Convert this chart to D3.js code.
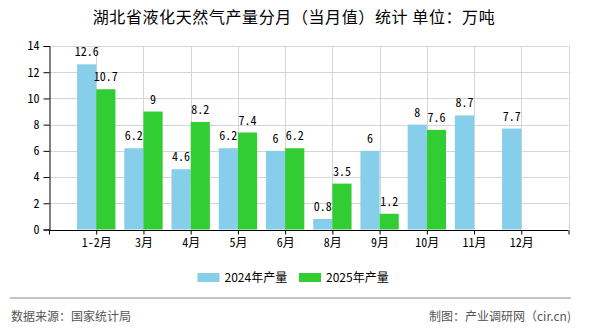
<!DOCTYPE html>
<html><head><meta charset="utf-8">
<script src="https://cdn.jsdelivr.net/npm/d3@7"></script>
<style>
html,body{margin:0;padding:0;background:#fff;}
svg{display:block;}
</style></head>
<body><svg id="c" width="590" height="330"></svg>
<script>
const title = "湖北省液化天然气产量分月（当月值）统计 单位：万吨";
const categories = ["1-2月","3月","4月","5月","6月","8月","9月","10月","11月","12月"];
const series2024 = [12.6, 6.2, 4.6, 6.2, 6, 0.8, 6, 8, 8.7, 7.7];
const series2025 = [10.7, 9, 8.2, 7.4, 6.2, 3.5, 1.2, 7.6, null, null];
const seriesNames = ["2024年产量", "2025年产量"];
const colors = ["#87CEEB", "#32CD32"];
const yTicks = [0, 2, 4, 6, 8, 10, 12, 14];
const sourceText = "数据来源：国家统计局";
const creditText = "制图：产业调研网（cir.cn)";

const svg = d3.select("#c");
const monoFont = "'Noto Sans Mono CJK SC','Liberation Mono',monospace";
const cjkFont = "'Noto Sans CJK SC','Microsoft YaHei',sans-serif";

const x = d3.scaleLinear().domain([0, categories.length + 1]).range([49, 568.5]);
const y = d3.scaleLinear().domain([0, 14]).range([229.5, 46]);
const step = x(1) - x(0);
const bw = step * 0.406;

// title
svg.append("text").attr("x", 294).attr("y", 23).attr("text-anchor", "middle")
  .attr("font-family", cjkFont).attr("font-size", 16).attr("letter-spacing", 0.6)
  .attr("fill", "#000").text(title);

// grid
const g = svg.append("g");
g.selectAll("line.h").data(yTicks.filter(d => d > 0)).join("line")
  .attr("x1", x(0)).attr("x2", x(categories.length + 1))
  .attr("y1", d => Math.round(y(d)) + 0.5).attr("y2", d => Math.round(y(d)) + 0.5)
  .attr("stroke", "#d4d4d4").attr("stroke-width", 1);
g.selectAll("line.v").data(d3.range(1, categories.length + 2)).join("line")
  .attr("x1", d => Math.round(x(d)) + 0.5).attr("x2", d => Math.round(x(d)) + 0.5)
  .attr("y1", y(14)).attr("y2", y(0))
  .attr("stroke", "#d4d4d4").attr("stroke-width", 1);

// bars
const rows = categories.map((c, i) => ({c, i, v: [series2024[i], series2025[i]]}));
[0, 1].forEach(s => {
  svg.append("g").selectAll("rect").data(rows.filter(r => r.v[s] != null)).join("rect")
    .attr("x", r => x(r.i + 1) - bw + s * bw)
    .attr("width", bw)
    .attr("y", r => y(r.v[s]))
    .attr("height", r => y(0) - y(r.v[s]))
    .attr("fill", colors[s]);
  svg.append("g").selectAll("text").data(rows.filter(r => r.v[s] != null)).join("text")
    .attr("x", r => x(r.i + 1) - bw / 2 + s * bw)
    .attr("y", r => y(r.v[s]) - 8)
    .attr("text-anchor", "middle")
    .attr("font-family", monoFont).attr("font-size", 12).attr("fill", "#000")
    .text(r => r.v[s]);
});

// axes
const yAxis = d3.axisLeft(y).tickValues(yTicks).tickSize(6).tickPadding(4).tickFormat(d3.format("d"));
const ya = svg.append("g").attr("transform", "translate(" + (Math.round(x(0)) + 0.5) + ",0)").call(yAxis);
ya.select(".domain").attr("stroke", "#000");
ya.selectAll("text").attr("font-family", monoFont).attr("font-size", 12).attr("fill", "#000");

const xAxis = d3.axisBottom(x).tickValues(d3.range(0, categories.length + 2)).tickSize(4).tickPadding(4)
  .tickFormat(d => (d >= 1 && d <= categories.length) ? categories[d - 1] : "");
const xa = svg.append("g").attr("transform", "translate(0," + (Math.round(y(0)) + 0.5) + ")").call(xAxis);
xa.select(".domain").attr("stroke", "#000").attr("d", "M" + x(0) + ",0H" + x(categories.length + 1));
xa.selectAll("text").attr("font-family", monoFont).attr("font-size", 12).attr("fill", "#000");

// legend
const legX = [197.5, 299];
seriesNames.forEach((n, s) => {
  svg.append("rect").attr("x", legX[s]).attr("y", 273).attr("width", 22).attr("height", 9).attr("fill", colors[s]);
  svg.append("text").attr("x", legX[s] + 27).attr("y", 282).attr("font-family", cjkFont)
    .attr("font-size", 12).attr("fill", "#000").text(n);
});

// footer
svg.append("line").attr("x1", 10).attr("x2", 571).attr("y1", 298).attr("y2", 298)
  .attr("stroke", "#888").attr("stroke-width", 1);
svg.append("text").attr("x", 11).attr("y", 321).attr("font-family", cjkFont)
  .attr("font-size", 12).attr("fill", "#555").text(sourceText);
svg.append("text").attr("x", 571).attr("y", 321).attr("text-anchor", "end").attr("font-family", cjkFont)
  .attr("font-size", 12).attr("fill", "#555").text(creditText);
</script>
</body></html>
